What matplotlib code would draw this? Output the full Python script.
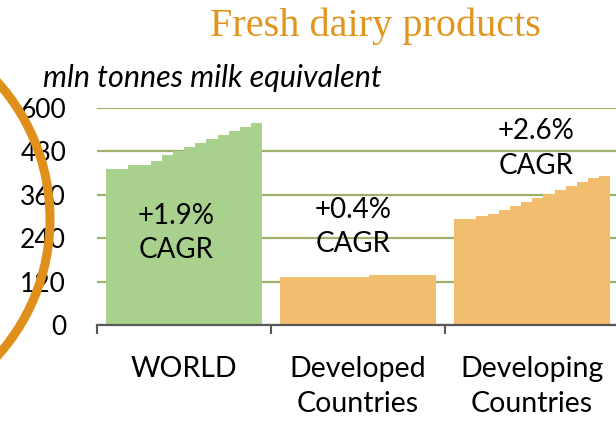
import numpy as np
import matplotlib
matplotlib.use('Agg')
from matplotlib import pyplot as plt
from matplotlib.patches import Circle

# mln tonnes milk equivalent, 14 yearly bars per group
world = [431, 431, 442, 442, 453, 469, 480, 491, 502, 514, 525, 536, 547, 558]
developed = [133, 133, 133, 133, 133, 133, 133, 133, 138, 138, 138, 138, 138, 138]
developing = [294, 294, 301, 307, 318, 329, 339, 351, 362, 373, 384, 395, 406, 412]

groups = ['WORLD', 'Developed\nCountries', 'Developing\nCountries']
cagr = ['+1.9%\nCAGR', '+0.4%\nCAGR', '+2.6%\nCAGR']
cagr_y = [254, 270, 487]
yticks = [0, 120, 240, 360, 480, 600]

green = '#A9D18E'
orange = '#F0BE6E'
grid_col = '#9DB16A'
title_col = '#E0951F'

plt.rcParams['font.family'] = ['Lato', 'DejaVu Sans']

fig = plt.figure(figsize=(6.16, 4.24), dpi=100)
ax = fig.add_axes([96.7/616, 1-325/424, (619-96.7)/616, (325-107.7)/424])

slot = 15.6
off = 0.83
series = [world, developed, developing]
colors = [green, orange, orange]
for g, vals in enumerate(series):
    x = g*slot + off + np.arange(len(vals))
    ax.bar(x, vals, width=1.0, align='edge', color=colors[g],
           linewidth=0, antialiased=False, zorder=2)

for g, txt in enumerate(cagr):
    dx = [-0.7, -0.4, 0.35][g]
    ax.text(g*slot + slot/2 + dx, cagr_y[g], txt, ha='center', va='center',
            fontsize=20, linespacing=1.4, zorder=3)

ax.set_xlim(0, 3*slot)
ax.set_ylim(0, 600)
ax.set_yticks(yticks)
ax.set_yticklabels([str(v) for v in yticks], fontsize=19)
ax.tick_params(axis='y', length=0, pad=22)
ax.grid(axis='y', color=grid_col, linewidth=1.6, zorder=0)
ax.set_axisbelow(True)

ax.set_xticks([g*slot for g in range(4)])
ax.set_xticklabels(['']*4)
ax.tick_params(axis='x', which='major', direction='out', length=6.5,
               width=1.5, color='#595959')
ax.set_xticks([g*slot + slot/2 for g in range(3)], minor=True)
ax.set_xticklabels(groups, minor=True, fontsize=20.5, linespacing=1.45)
ax.tick_params(axis='x', which='minor', length=0, pad=22)

for s in ['left', 'right', 'top']:
    ax.spines[s].set_visible(False)
ax.spines['bottom'].set_color('#595959')
ax.spines['bottom'].set_linewidth(1.6)
ax.spines['bottom'].set_zorder(4)

fig.text(375/616, 1-36/424, 'Fresh dairy products', ha='center', va='baseline',
         fontsize=29, color=title_col, family='Liberation Serif')
fig.text(43/616, 1-87/424, 'mln tonnes milk equivalent', ha='left', va='baseline',
         fontsize=22, style='italic')

ring = Circle((-1.546, (424-219)/100), 2.046, transform=fig.dpi_scale_trans,
              fill=False, edgecolor='#DF8F1A', linewidth=6.5, zorder=10)
fig.add_artist(ring)

plt.savefig('out.png', dpi=100)
